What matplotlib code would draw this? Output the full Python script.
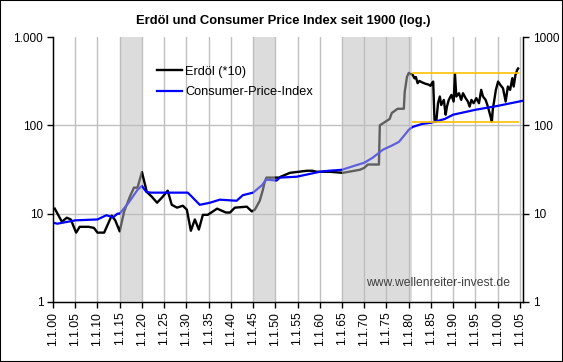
import matplotlib
matplotlib.use('Agg')
import matplotlib.pyplot as plt
from matplotlib.patches import Rectangle
from matplotlib.ticker import FixedLocator, NullLocator

plt.rcParams['font.family'] = ['Liberation Sans', 'DejaVu Sans']

# Oil price (*10)
OIL_YEARS = [1900.4, 1902.0, 1903.1, 1904.0, 1905.2, 1906.0, 1908.0, 1909.2, 1910.0,
             1911.5, 1913.2, 1914.0, 1915.0, 1916.0, 1917.3, 1918.2, 1919.0, 1920.0,
             1921.1, 1922.2, 1923.4, 1924.5, 1925.8, 1926.7, 1927.9, 1929.2, 1930.1,
             1931.0, 1931.9, 1932.8, 1933.7, 1934.8, 1936.9, 1938.9, 1939.8, 1940.9,
             1943.6, 1944.7, 1945.4, 1946.5, 1947.2, 1947.6, 1948.0, 1951.0, 1951.2,
             1953.3, 1957.1, 1958.4, 1959.3, 1962.2, 1965.2, 1969.0, 1970.0, 1970.8,
             1973.3, 1973.5, 1974.4, 1975.7, 1976.2, 1977.5, 1978.9, 1979.1, 1979.6,
             1980.0, 1980.5, 1980.9, 1981.3, 1981.6, 1982.0, 1982.4, 1983.1, 1983.8,
             1984.4, 1984.9, 1985.2, 1985.5, 1985.8, 1986.2, 1986.6, 1987.0, 1987.3,
             1987.9, 1988.3, 1988.6, 1989.0, 1989.6, 1990.1, 1990.4, 1990.7, 1991.3,
             1991.8, 1992.2, 1992.8, 1993.3, 1993.7, 1994.1, 1994.6, 1995.2, 1995.8,
             1996.3, 1996.7, 1997.3, 1997.8, 1998.4, 1998.7, 1998.9, 1999.6, 2000.1,
             2000.6, 2001.2, 2001.8, 2002.3, 2002.8, 2003.3, 2003.6, 2004.0, 2004.4,
             2004.6]
OIL_VALUES = [11.4, 8.1, 9.0, 8.6, 6.1, 7.1, 7.1, 6.9, 6.1,
              6.1, 9.5, 8.4, 6.3, 10.6, 15.6, 19.7, 19.7, 29.6,
              17.6, 15.6, 13.3, 15.2, 18.2, 12.6, 11.7, 12.3, 11.1,
              6.4, 8.6, 6.6, 9.7, 9.7, 11.4, 10.3, 10.3, 11.7,
              12.0, 10.6, 11.1, 14.0, 18.6, 22.9, 25.6, 25.6, 26.2,
              29.0, 30.6, 30.6, 29.8, 29.8, 29.0, 31.4, 33.0, 36.0,
              36.0, 100.0, 107.0, 118.0, 138.0, 154.0, 154.0, 239.0, 353.0,
              392.0, 380.0, 372.0, 340.0, 353.0, 300.0, 318.0, 305.0, 295.0,
              290.0, 280.0, 300.0, 313.0, 115.0, 110.0, 180.0, 212.0, 170.0,
              194.0, 132.0, 163.0, 194.0, 221.0, 186.0, 382.0, 212.0, 231.0,
              194.0, 231.0, 203.0, 186.0, 163.0, 194.0, 178.0, 203.0, 178.0,
              252.0, 212.0, 194.0, 163.0, 126.0, 110.0, 150.0, 252.0, 313.0,
              287.0, 263.0, 186.0, 275.0, 252.0, 342.0, 275.0, 372.0, 424.0,
              440.0]

# Consumer Price Index
CPI_YEARS = [1900.0, 1901.0, 1905.0, 1910.0, 1912.0, 1913.5, 1914.5, 1915.0, 1917.0,
             1919.0, 1920.0, 1921.0, 1922.0, 1925.0, 1930.3, 1931.2, 1933.0, 1935.3,
             1937.5, 1941.3, 1942.7, 1945.0, 1947.0, 1948.0, 1950.3, 1951.0, 1954.8,
             1960.0, 1962.0, 1965.0, 1967.9, 1970.0, 1971.9, 1974.2, 1976.2, 1977.8,
             1979.1, 1980.0, 1980.9, 1983.1, 1985.0, 1988.1, 1990.0, 1995.0, 2000.0,
             2005.5]
CPI_VALUES = [7.9, 7.7, 8.4, 8.6, 9.6, 9.1, 10.0, 10.0, 13.3,
              18.6, 20.6, 17.6, 17.3, 17.3, 17.3, 15.6, 12.6, 13.3,
              14.4, 14.0, 16.2, 17.3, 21.0, 24.3, 23.7, 25.6, 26.2,
              29.8, 30.6, 31.4, 35.0, 37.7, 43.0, 53.0, 59.0, 65.0,
              78.0, 89.0, 96.0, 104.0, 107.0, 118.0, 132.0, 150.0, 166.0,
              189.0]

SHADED = [(1915, 1920), (1945, 1950), (1965, 1980.7)]
BAND_LEVELS = [392, 110]
BAND_SPAN = (1980.7, 2004.8)

XTICKS = list(range(1900, 2006, 5))
XTICK_LABELS = ['1.1.%02d' % (y % 100) for y in XTICKS]
YTICKS = [1, 10, 100, 1000]
LEFT_LABELS = ['1', '10', '100', '1.000']
RIGHT_LABELS = ['1', '10', '100', '1000']

W, H = 563, 362
fig = plt.figure(figsize=(W / 100, H / 100), dpi=100)
fig.patches.append(Rectangle((0, 0), 1, 1, transform=fig.transFigure,
                             fill=False, edgecolor='black', linewidth=1.5))
ax = fig.add_axes([53 / W, 1 - 302 / H, 470 / W, 265 / H])

ax.set_yscale('log')
ax.set_ylim(1, 1000)
ax.set_xlim(1900, 2005.7)

for x in XTICKS[1:]:
    ax.axvline(x, color='#c0c0c0', lw=1.0, zorder=0)
for y in (10, 100):
    ax.axhline(y, color='#c0c0c0', lw=1.0, zorder=0)

ax.plot(OIL_YEARS, OIL_VALUES, color='black', lw=1.7, zorder=2, label='Erdöl (*10)')
ax.plot(CPI_YEARS, CPI_VALUES, color='#0000ff', lw=1.6, zorder=2,
        label='Consumer-Price-Index')

for a, b in SHADED:
    ax.axvspan(a, b, color=(0.737, 0.737, 0.737), alpha=0.51, lw=0, zorder=3)

for lvl in BAND_LEVELS:
    ax.hlines(lvl, BAND_SPAN[0], BAND_SPAN[1], color='#ffc000', lw=1.2, zorder=4)

ax.spines['top'].set_visible(False)
for s in ('left', 'right', 'bottom'):
    ax.spines[s].set_linewidth(1.0)

ax.xaxis.set_major_locator(FixedLocator(XTICKS))
ax.set_xticklabels(XTICK_LABELS, rotation=90, fontsize=8.7)
ax.yaxis.set_major_locator(FixedLocator(YTICKS))
ax.yaxis.set_minor_locator(NullLocator())
ax.set_yticklabels(LEFT_LABELS, fontsize=8.5)
ax.tick_params(axis='both', direction='out', length=4, width=1, pad=3)

ax2 = ax.twinx()
ax2.set_yscale('log')
ax2.set_ylim(1, 1000)
ax2.yaxis.set_major_locator(FixedLocator(YTICKS))
ax2.yaxis.set_minor_locator(NullLocator())
ax2.set_yticklabels(RIGHT_LABELS, fontsize=8.5)
ax2.tick_params(axis='y', direction='out', length=4, width=1, pad=3)
ax2.spines['top'].set_visible(False)

ax.legend(loc='upper left', bbox_to_anchor=(0.21, 0.91), frameon=False,
          fontsize=9.2, handlelength=2.0, handletextpad=0.2, labelspacing=0.65,
          borderaxespad=0)

ax.text(0.972, 0.072, 'www.wellenreiter-invest.de', transform=ax.transAxes,
        ha='right', va='center', fontsize=8.7, color='#404040', zorder=5)

fig.text(283 / W, 1 - 21 / H, 'Erdöl und Consumer Price Index seit 1900 (log.)',
         ha='center', va='center', fontsize=9.4, fontweight='bold')

fig.savefig('out.png', dpi=100)
